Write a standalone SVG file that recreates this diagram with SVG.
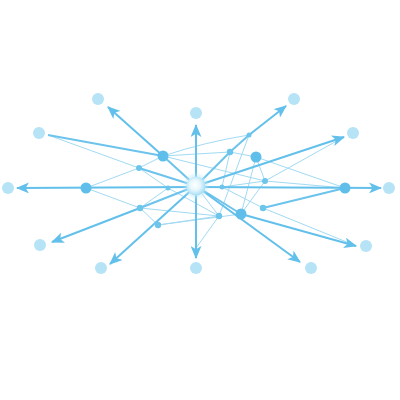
<svg xmlns="http://www.w3.org/2000/svg" width="400" height="400" viewBox="0 0 400 400">
<defs>
<marker id="ah" viewBox="0 0 12 10" refX="11" refY="5" markerWidth="6.5" markerHeight="5.5" orient="auto" markerUnits="strokeWidth">
<path d="M0,0 L12,5 L0,10 L3,5 z" fill="#62c0eb"/>
</marker>
<radialGradient id="cg" cx="0.45" cy="0.45" r="0.55">
<stop offset="0" stop-color="#ffffff"/>
<stop offset="0.5" stop-color="#e6f7fd"/>
<stop offset="1" stop-color="#a8def5"/>
</radialGradient>
<radialGradient id="glow" cx="0.5" cy="0.5" r="0.5">
<stop offset="0.5" stop-color="#bfe9fa" stop-opacity="0.8"/>
<stop offset="1" stop-color="#bfe9fa" stop-opacity="0"/>
</radialGradient>
</defs>
<style>
.thin{stroke:#a2daf3;stroke-width:1;fill:none}
.thick{stroke:#6cc3ec;stroke-width:2;fill:none}
.arr{stroke:#62c0eb;stroke-width:2;fill:none;marker-end:url(#ah)}
.outer{fill:#b6e3f6}
.mid{fill:#5fbfea}
.small{fill:#6dc5ec}
</style>
<g id="connectors">
<line class="thin" x1="48" y1="135" x2="139" y2="168"/>
<line class="thin" x1="86" y1="188" x2="139" y2="168"/>
<line class="thin" x1="86" y1="188" x2="140" y2="208"/>
<line class="thin" x1="139" y1="168" x2="163" y2="156"/>
<line class="thin" x1="139" y1="168" x2="168" y2="188"/>
<line class="thin" x1="168" y1="188" x2="140" y2="208"/>
<line class="thin" x1="140" y1="208" x2="158" y2="225"/>
<line class="thin" x1="140" y1="208" x2="219" y2="216"/>
<line class="thin" x1="158" y1="225" x2="219" y2="216"/>
<line class="thin" x1="158" y1="225" x2="241" y2="214"/>
<line class="thin" x1="219" y1="216" x2="249" y2="135"/>
<line class="thin" x1="219" y1="216" x2="196" y2="186"/>
<line class="thin" x1="219" y1="216" x2="196" y2="248"/>
<line class="thin" x1="241" y1="214" x2="265" y2="181"/>
<line class="thin" x1="222" y1="187" x2="263" y2="208"/>
<line class="thin" x1="222" y1="187" x2="265" y2="181"/>
<line class="thin" x1="256" y1="157" x2="265" y2="181"/>
<line class="thin" x1="256" y1="157" x2="345" y2="188"/>
<line class="thin" x1="265" y1="181" x2="342" y2="138"/>
<line class="thin" x1="265" y1="181" x2="345" y2="188"/>
<line class="thin" x1="263" y1="208" x2="354" y2="245"/>
<line class="thin" x1="230" y1="152" x2="256" y2="157"/>
<line class="thin" x1="163" y1="156" x2="230" y2="152"/>
<path class="thin" d="M163,156 Q205,142 249,135"/>
<line class="thin" x1="163" y1="156" x2="265" y2="181"/>
<line class="thin" x1="230" y1="152" x2="222" y2="187"/>
<line class="thin" x1="256" y1="157" x2="241" y2="214"/>
<line class="thin" x1="168" y1="188" x2="219" y2="216"/>

<line class="thick" x1="48" y1="135" x2="163" y2="156"/>
<line class="thick" x1="196" y1="186" x2="163" y2="156"/>
<line class="thick" x1="139" y1="168" x2="196" y2="186"/>
<line class="thick" x1="196" y1="186" x2="140" y2="208"/>
<line class="thick" x1="263" y1="208" x2="345" y2="188"/>
<line class="thick" x1="196" y1="186" x2="241" y2="214"/>
<line class="thick" x1="196" y1="186" x2="230" y2="152"/>
<line class="thick" x1="230" y1="152" x2="249" y2="135"/>

<line class="arr" x1="163" y1="156" x2="108" y2="107"/>
<line class="arr" x1="196" y1="186" x2="196" y2="125"/>
<line class="arr" x1="249" y1="135" x2="286" y2="106"/>
<line class="arr" x1="196" y1="186" x2="344" y2="137"/>
<line class="arr" x1="196" y1="187" x2="381" y2="188"/>
<line class="arr" x1="241" y1="214" x2="356" y2="246"/>
<line class="arr" x1="196" y1="186" x2="300" y2="262"/>
<line class="arr" x1="196" y1="186" x2="196" y2="258"/>
<line class="arr" x1="196" y1="186" x2="110" y2="264"/>
<line class="arr" x1="140" y1="208" x2="52" y2="242"/>
<line class="arr" x1="196" y1="187" x2="17" y2="188"/>
</g>
<g id="outer-nodes">
<circle class="outer" cx="98" cy="99" r="6"/>
<circle class="outer" cx="196" cy="113" r="6"/>
<circle class="outer" cx="294" cy="99" r="6"/>
<circle class="outer" cx="39" cy="133" r="6"/>
<circle class="outer" cx="353" cy="133" r="6"/>
<circle class="outer" cx="8" cy="188" r="6"/>
<circle class="outer" cx="389" cy="188" r="6"/>
<circle class="outer" cx="40" cy="245" r="6"/>
<circle class="outer" cx="366" cy="246" r="6"/>
<circle class="outer" cx="101" cy="268" r="6"/>
<circle class="outer" cx="196" cy="268" r="6"/>
<circle class="outer" cx="311" cy="268" r="6"/>
</g>
<g id="mid-nodes">
<circle class="mid" cx="163" cy="156" r="5.5"/>
<circle class="mid" cx="86" cy="188" r="5.5"/>
<circle class="mid" cx="256" cy="157" r="5.5"/>
<circle class="mid" cx="345" cy="188" r="5.5"/>
<circle class="mid" cx="241" cy="214" r="5.5"/>
</g>
<g id="small-nodes">
<circle class="small" cx="139" cy="168" r="3"/>
<circle class="small" cx="168" cy="188" r="2.5"/>
<circle class="small" cx="140" cy="208" r="3.2"/>
<circle class="small" cx="158" cy="225" r="3.2"/>
<circle class="small" cx="230" cy="152" r="3.2"/>
<circle class="small" cx="249" cy="135" r="2.5"/>
<circle class="small" cx="222" cy="187" r="2.5"/>
<circle class="small" cx="265" cy="181" r="3"/>
<circle class="small" cx="263" cy="208" r="3.2"/>
<circle class="small" cx="219" cy="216" r="3.2"/>
</g>
<g id="center">
<circle cx="196" cy="186" r="14" fill="url(#glow)"/>
<circle cx="196" cy="186" r="9.5" fill="url(#cg)"/>
</g>
</svg>
